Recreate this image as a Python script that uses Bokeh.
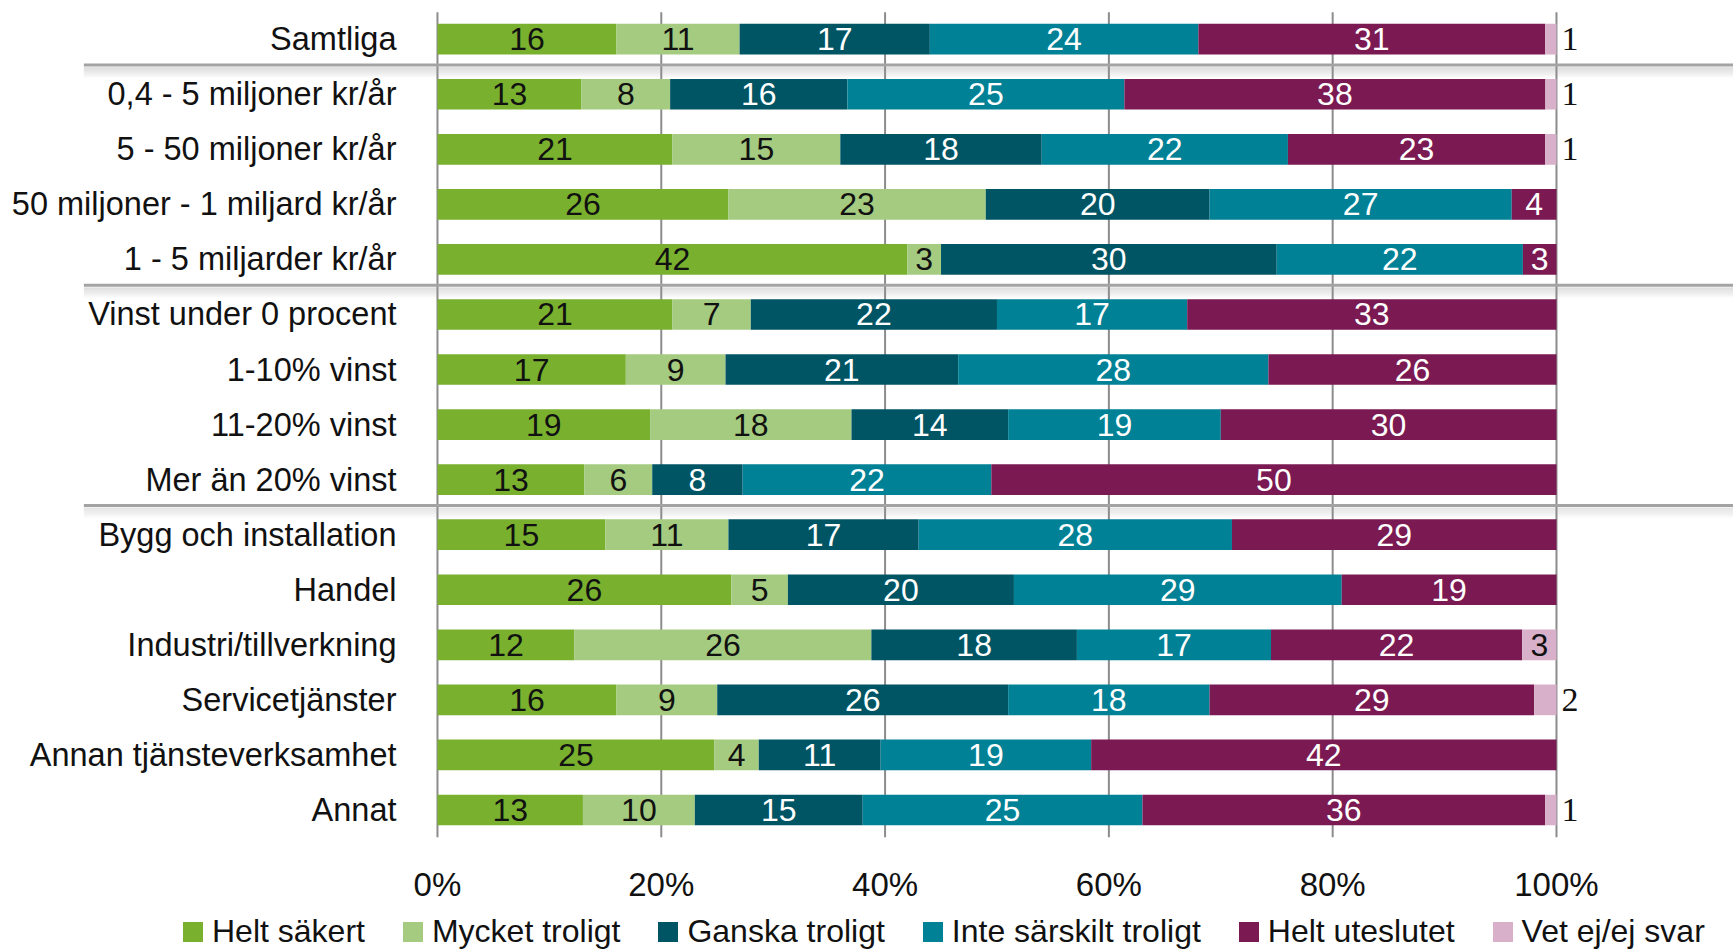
from bokeh.plotting import figure
from bokeh.layouts import column
from bokeh.models import Range1d, ColumnDataSource, FixedTicker, PrintfTickFormatter, Legend, LegendItem
from bokeh.core.properties import value
from bokeh.embed import file_html
from bokeh.resources import INLINE

# ---------------- data ----------------
categories = [
    "Samtliga",
    "0,4 - 5 miljoner kr/år",
    "5 - 50 miljoner kr/år",
    "50 miljoner - 1 miljard kr/år",
    "1 - 5 miljarder kr/år",
    "Vinst under 0 procent",
    "1-10% vinst",
    "11-20% vinst",
    "Mer än 20% vinst",
    "Bygg och installation",
    "Handel",
    "Industri/tillverkning",
    "Servicetjänster",
    "Annan tjänsteverksamhet",
    "Annat",
]
series_names = ["Helt säkert", "Mycket troligt", "Ganska troligt",
                "Inte särskilt troligt", "Helt uteslutet", "Vet ej/ej svar"]
helt_sakert    = [16, 13, 21, 26, 42, 21, 17, 19, 13, 15, 26, 12, 16, 25, 13]
mycket_troligt = [11,  8, 15, 23,  3,  7,  9, 18,  6, 11,  5, 26,  9,  4, 10]
ganska_troligt = [17, 16, 18, 20, 30, 22, 21, 14,  8, 17, 20, 18, 26, 11, 15]
inte_sarskilt  = [24, 25, 22, 27, 22, 17, 28, 19, 22, 28, 29, 17, 18, 19, 25]
helt_uteslutet = [31, 38, 23,  4,  3, 33, 26, 30, 50, 29, 19, 22, 29, 42, 36]
vet_ej         = [ 1,  1,  1,  0,  0,  0,  0,  0,  0,  0,  0,  3,  2,  0,  1]
group_last_rows = [0, 4, 8]          # a separator follows these rows
x_ticks = [0, 20, 40, 60, 80, 100]

# ---------------- style ----------------
series_colors = ["#79b12f", "#a4cb80", "#005565", "#008196", "#7a1952", "#d8b0ca"]
label_colors  = ["#111111", "#111111", "#ffffff", "#ffffff", "#ffffff", "#111111"]
FONT = "Liberation Sans"

W = 1733
H_MAIN, H_LEG = 910, 40
FRAME_H = 837
X0, X1 = -39.05, 115.82
Y_BOTTOM, Y_TOP = 14.50, -0.703
BAR_H = 0.557
PX_Y = (Y_BOTTOM - Y_TOP) / FRAME_H   # data units per pixel (vertical)

p = figure(width=W, height=H_MAIN, output_backend="svg", toolbar_location=None,
           x_range=Range1d(X0, X1), y_range=Range1d(Y_BOTTOM, Y_TOP),
           min_border_left=0, min_border_right=0, min_border_top=0,
           min_border_bottom=H_MAIN - FRAME_H,
           y_axis_location=None, outline_line_color=None, background_fill_color="white")
p.xgrid.visible = False
p.ygrid.visible = False

n = len(categories)
rows = list(range(n))
all_series = [helt_sakert, mycket_troligt, ganska_troligt, inte_sarskilt, helt_uteslutet, vet_ej]
totals = [sum(s[i] for s in all_series) for i in rows]

# vertical grid lines (behind bars)
p.segment(x0=x_ticks, y0=[-0.49] * len(x_ticks), x1=x_ticks, y1=[Y_BOTTOM] * len(x_ticks),
          line_color="#8c8c8c", line_width=2)

# group separators with a soft shadow
sep_y = [r + 0.47 for r in group_last_rows]
for k in range(1, 12):
    a = 0.30 * (1 - k / 12.0)
    p.segment(x0=[-31.6] * len(sep_y), y0=[y + (1.5 + k) * PX_Y for y in sep_y],
              x1=[X1] * len(sep_y), y1=[y + (1.5 + k) * PX_Y for y in sep_y],
              line_color="#9a9a9a", line_alpha=a, line_width=1.2)
p.segment(x0=[-31.6] * len(sep_y), y0=sep_y, x1=[X1] * len(sep_y), y1=sep_y,
          line_color="#a3a3a3", line_width=3)

# stacked bars
cum = [0.0] * n
in_x, in_y, in_t, in_c = [], [], [], []
out_x, out_y, out_t = [], [], []
for si, s in enumerate(all_series):
    left = [cum[i] for i in rows]
    right = [cum[i] + s[i] / totals[i] * 100.0 for i in rows]
    cum = right
    src = ColumnDataSource(dict(y=rows, left=left, right=right))
    p.hbar(y="y", left="left", right="right", height=BAR_H, source=src,
           fill_color=series_colors[si], line_color=None)
    for i in rows:
        v = s[i]
        if v <= 0:
            continue
        if si == len(all_series) - 1 and v < 3:
            out_x.append(100.45)
            out_y.append(i)
            out_t.append(str(v))
        else:
            in_x.append((left[i] + right[i]) / 2)
            in_y.append(i)
            in_t.append(str(v))
            in_c.append(label_colors[si])

p.text(x="x", y="y", text="t", source=ColumnDataSource(dict(x=in_x, y=in_y, t=in_t, tc=in_c)),
       text_color="tc", text_font=value(FONT), text_font_size="32px",
       text_align="center", text_baseline="middle")
p.text(x="x", y="y", text="t", source=ColumnDataSource(dict(x=out_x, y=out_y, t=out_t)),
       text_color="#111111", text_font=value("Liberation Serif"), text_font_size="34px",
       text_align="left", text_baseline="middle")

# category labels
p.text(x=[-3.66] * n, y=rows, text=categories, text_color="#111111",
       text_font=value(FONT), text_font_size="32.5px", text_align="right", text_baseline="middle")

# x axis
ax = p.xaxis[0]
ax.ticker = FixedTicker(ticks=x_ticks)
ax.formatter = PrintfTickFormatter(format="%d%%")
ax.axis_line_color = None
ax.major_tick_line_color = None
ax.minor_tick_line_color = None
ax.major_tick_out = 0
ax.minor_tick_out = 0
ax.major_label_text_font = FONT
ax.major_label_text_font_size = "33px"
ax.major_label_text_color = "#111111"
ax.major_label_standoff = 28

# ---------------- legend strip ----------------
pl = figure(width=W, height=H_LEG, output_backend="svg", toolbar_location=None,
            x_range=Range1d(0, 1), y_range=Range1d(0, 1),
            min_border_left=0, min_border_right=0, min_border_top=0, min_border_bottom=0,
            x_axis_location=None, y_axis_location=None, outline_line_color=None)
pl.xgrid.visible = False
pl.ygrid.visible = False
leg_renderers = []
for si in range(len(series_names)):
    # legend proxies: one swatch each, placed outside the visible range
    leg_renderers.append(pl.rect(x=[-10], y=[-10], width=1, height=1,
                                 fill_color=series_colors[si], line_color=None))
legend = Legend(items=[LegendItem(label=series_names[i], renderers=[leg_renderers[i]])
                       for i in range(len(series_names))],
                orientation="horizontal", location=(180, 0),
                glyph_width=25, glyph_height=25, label_standoff=7, spacing=35,
                label_text_font=FONT, label_text_font_size="32px", label_text_color="#111111",
                padding=0, margin=0, border_line_color=None, background_fill_alpha=0)
pl.add_layout(legend)

layout = column(p, pl, spacing=0)
open("out.html", "w").write(file_html(layout, INLINE))
